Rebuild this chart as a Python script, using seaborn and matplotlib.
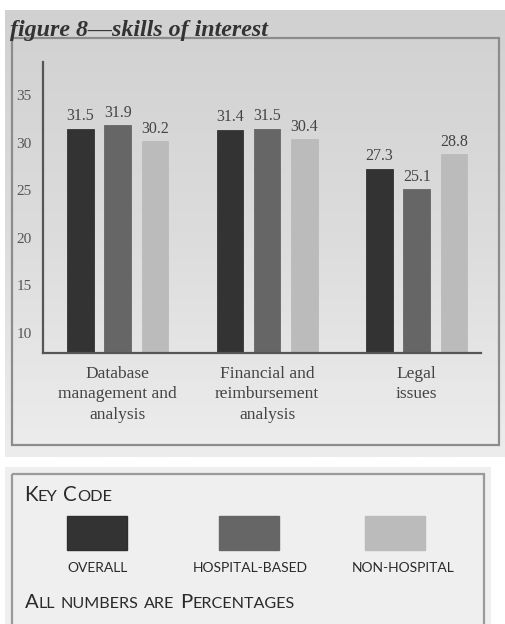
import numpy as np
import pandas as pd
import matplotlib
matplotlib.use("Agg")
import matplotlib.pyplot as plt
import seaborn as sns
from matplotlib.patches import Rectangle
from matplotlib.colors import LinearSegmentedColormap

# ---- data ----
categories = ["Database\nmanagement and\nanalysis",
              "Financial and\nreimbursement\nanalysis",
              "Legal\nissues"]
groups = ["Overall", "Hospital-based", "Non-hospital"]
overall = [31.5, 31.4, 27.3]
hospital_based = [31.9, 31.5, 25.1]
non_hospital = [30.2, 30.4, 28.8]
y_ticks = [10, 15, 20, 25, 30, 35]
legend_labels = ["OVERALL", "HOSPITAL-BASED", "NON-HOSPITAL"]
bar_colors = ["#333333", "#666666", "#bbbbbb"]

rows = []
for g, vals in zip(groups, [overall, hospital_based, non_hospital]):
    for c, v in zip(categories, vals):
        rows.append({"category": c, "group": g, "value": v})
df = pd.DataFrame(rows)

sns.set_theme(style="white")
plt.rcParams["font.family"] = ["Liberation Serif", "DejaVu Serif"]

W, H = 505, 624
fig = plt.figure(figsize=(W / 100, H / 100), dpi=100)
fig.patch.set_facecolor("white")

# background layer in pixel coordinates
bg = fig.add_axes([0, 0, 1, 1], zorder=0)
bg.axis("off")
grad = np.linspace(0, 1, 256)[:, None]
cmap = LinearSegmentedColormap.from_list("panel", ["#d1d1d1", "#dcdcdc", "#ededed"])
bg.imshow(grad, cmap=cmap, extent=(5, 505, 457, 10), origin="upper",
          aspect="auto", zorder=0, interpolation="bilinear")
bg.add_patch(Rectangle((12, 38), 487, 407, fill=False, ec="#8c8c8c", lw=1.6, zorder=2))
bg.add_patch(Rectangle((5, 467), 486, 170, fc="#efefef", ec="none", zorder=1))
bg.add_patch(Rectangle((12, 474), 472, 170, fill=False, ec="#9a9a9a", lw=1.6, zorder=2))
bg.set_xlim(0, W)
bg.set_ylim(H, 0)

bg.text(10, 36, "figure 8\u2014skills of interest", fontsize=17.3, fontstyle="italic",
        fontweight="bold", color="#333333", ha="left", va="baseline",
        family=["Liberation Serif", "DejaVu Serif"], zorder=3)

# ---- bar chart ----
ax = fig.add_axes([43 / W, 1 - 353 / H, (481 - 43) / W, (353 - 62) / H], zorder=1)
ax.patch.set_alpha(0)
sns.barplot(data=df, x="category", y="value", hue="group", hue_order=groups,
            order=categories, palette=bar_colors, width=0.75, gap=0.29,
            linewidth=0.6, legend=False, ax=ax)
for cont, col in zip(ax.containers, bar_colors):
    for p in cont:
        p.set_edgecolor(col)
    ax.bar_label(cont, fmt="%.1f", padding=3, fontsize=11.5, color="#444444",
                 family=["Liberation Serif"])

ax.set_ylim(7.9, 38.5)
ax.set_xlim(-0.5, 2.43)
ax.set_yticks(y_ticks)
ax.set_xlabel("")
ax.set_ylabel("")
for s in ["top", "right"]:
    ax.spines[s].set_visible(False)
for s in ["left", "bottom"]:
    ax.spines[s].set_color("#555555")
    ax.spines[s].set_linewidth(1.6)
ax.tick_params(axis="y", length=0, pad=8, labelsize=11, labelcolor="#555555")
ax.tick_params(axis="x", length=0, pad=9, labelsize=12.5, labelcolor="#444444")
for lbl in ax.get_xticklabels():
    lbl.set_linespacing(1.38)
ax.grid(False)

# ---- key ----
sans = ["Lato", "DejaVu Sans"]
fig.canvas.draw()
renderer = fig.canvas.get_renderer()


def small_caps(x, y, text, big, small, color="#2a2a2a"):
    """Draw text in small caps: capitals at the big size, lower-case letters as smaller capitals."""
    runs = []
    for ch in text:
        if ch == " ":
            kind = "space"
        elif ch.isupper():
            kind = "big"
        else:
            kind = "small"
        if runs and runs[-1][0] == kind and kind != "space":
            runs[-1][1] += ch
        else:
            runs.append([kind, ch])
    cx = x
    for kind, s in runs:
        if kind == "space":
            cx += small * 100 / 72 * 0.34
            continue
        size = big if kind == "big" else small
        t = bg.text(cx, y, s.upper(), fontsize=size, color=color, ha="left",
                    va="baseline", family=sans, zorder=3)
        cx += t.get_window_extent(renderer).width


small_caps(24, 501, "Key Code", 14.8, 11.8)
small_caps(25, 608, "All numbers are Percentages", 14.6, 11.6)

swatch_x = [67, 219, 365]
label_cx = [97, 250, 403]
for sx, cx, col, lab in zip(swatch_x, label_cx, bar_colors, legend_labels):
    bg.add_patch(Rectangle((sx, 516), 60, 34, fc=col, ec="#2e2e2e" if col == "#333333" else col,
                           lw=1.0, zorder=3))
    bg.text(cx, 572, lab, fontsize=10, color="#2a2a2a", ha="center", va="baseline",
            family=sans, zorder=3)

fig.savefig("out.png", dpi=100)
